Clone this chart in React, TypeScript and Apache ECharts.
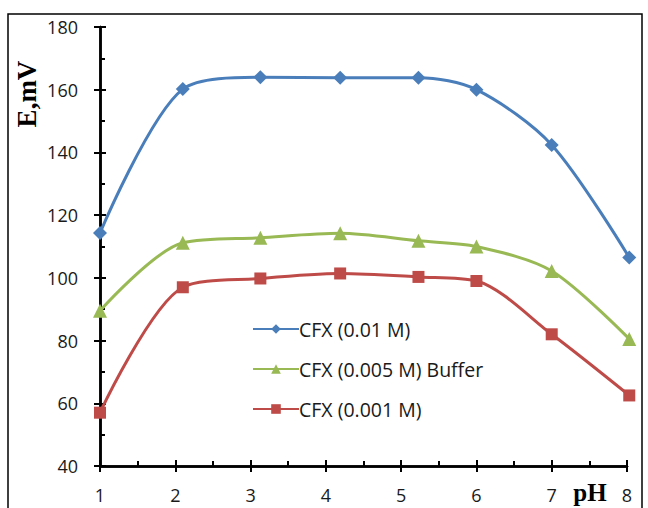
import React, { useEffect, useRef } from "react";
import * as echarts from "echarts";

const phBlue = [1, 2.1, 3.13, 4.19, 5.23, 6, 7, 8.03];
const eBlue = [114.3, 160.2, 164, 163.8, 163.8, 160, 142.4, 106.5];
const phGreen = [1, 2.1, 3.13, 4.19, 5.23, 6, 7, 8.03];
const eGreen = [89.5, 111.2, 112.8, 114.2, 111.8, 110, 102.2, 80.5];
const phRed = [1, 2.1, 3.13, 4.19, 5.23, 6, 7, 8.03];
const eRed = [57, 97, 99.8, 101.4, 100.3, 99, 82, 62.5];
const names = ["CFX (0.01 M)", "CFX (0.005 M) Buffer", "CFX (0.001 M)"];

const FONT = "'Open Sans', sans-serif";
const BLACK = "#000000";

export default function App() {
  const ref = useRef<HTMLDivElement>(null);
  useEffect(() => {
    const chart = echarts.init(ref.current!, null, { renderer: "svg" });
    const zip = (xs: number[], ys: number[]) => xs.map((x, i) => [x, ys[i]]);
    const line = { show: true, onZero: false, lineStyle: { color: BLACK, width: 2.5 } };
    chart.setOption({
      animation: false,
      backgroundColor: "#fff",
      grid: { left: 100, right: 21, top: 27, bottom: 42 },
      xAxis: [
        {
          type: "value",
          min: 1,
          max: 8,
          interval: 1,
          axisLine: line,
          splitLine: { show: false },
          axisTick: { show: true, inside: false, length: 6, lineStyle: { color: BLACK, width: 2 } },
          axisLabel: { color: "#1a1a1a", fontSize: 18, lineHeight: 18, fontFamily: FONT, margin: 20 },
        },
        {
          type: "value",
          position: "bottom",
          offset: 0,
          min: 1,
          max: 8,
          interval: 1,
          axisLine: line,
          splitLine: { show: false },
          axisTick: { show: true, inside: true, length: 6, lineStyle: { color: BLACK, width: 2 } },
          minorTick: { show: true, splitNumber: 2, length: 5, lineStyle: { color: BLACK, width: 2 } },
          axisLabel: { show: false },
        },
      ],
      yAxis: [
        {
          type: "value",
          min: 40,
          max: 180,
          interval: 20,
          axisLine: line,
          splitLine: { show: false },
          axisTick: { show: true, inside: false, length: 6, lineStyle: { color: BLACK, width: 2 } },
          axisLabel: { color: "#1a1a1a", fontSize: 18, fontFamily: FONT, margin: 22 },
        },
        {
          type: "value",
          position: "left",
          offset: 0,
          min: 40,
          max: 180,
          interval: 20,
          axisLine: line,
          splitLine: { show: false },
          axisTick: { show: true, inside: true, length: 6, lineStyle: { color: BLACK, width: 2 } },
          minorTick: { show: true, splitNumber: 2, length: 5, lineStyle: { color: BLACK, width: 2 } },
          axisLabel: { show: false },
        },
      ],
      legend: {
        orient: "vertical",
        left: 247,
        top: 314,
        itemGap: 20,
        itemWidth: 46,
        itemHeight: 12,
        textStyle: { color: "#1a1a1a", fontSize: 19.5, fontFamily: FONT, padding: [0, 0, 0, -5] },
        data: names,
      },
      series: [
        {
          name: names[0],
          type: "line",
          data: zip(phBlue, eBlue),
          smooth: 0.3,
          clip: false,
          symbol: "diamond",
          symbolSize: 14,
          itemStyle: { color: "#4A7EBB" },
          lineStyle: { color: "#4A7EBB", width: 3 },
        },
        {
          name: names[1],
          type: "line",
          data: zip(phGreen, eGreen),
          smooth: 0.3,
          clip: false,
          symbol: "triangle",
          symbolSize: 14,
          itemStyle: { color: "#98B954" },
          lineStyle: { color: "#98B954", width: 3 },
        },
        {
          name: names[2],
          type: "line",
          data: zip(phRed, eRed),
          smooth: 0.3,
          clip: false,
          symbol: "rect",
          symbolSize: 12,
          itemStyle: { color: "#BE4B48" },
          lineStyle: { color: "#BE4B48", width: 3 },
        },
      ],
      graphic: [
        {
          type: "rect",
          shape: { x: 8, y: 14, width: 634, height: 520 },
          style: { fill: "none", stroke: BLACK, lineWidth: 1.5 },
          silent: true,
        },
        {
          type: "text",
          x: 27,
          y: 94,
          rotation: Math.PI / 2,
          style: {
            text: "E,mV",
            font: "bold 27px 'Liberation Serif', serif",
            fill: BLACK,
            align: "center",
            verticalAlign: "middle",
          },
        },
        {
          type: "text",
          x: 590,
          y: 492,
          style: {
            text: "pH",
            font: "bold 25px 'Liberation Serif', serif",
            fill: BLACK,
            align: "center",
            verticalAlign: "middle",
          },
        },
      ],
    });
    return () => chart.dispose();
  }, []);
  return (
    <div
      ref={ref}
      style={{ position: "fixed", left: 0, top: 0, width: 648, height: 508 }}
    />
  );
}
